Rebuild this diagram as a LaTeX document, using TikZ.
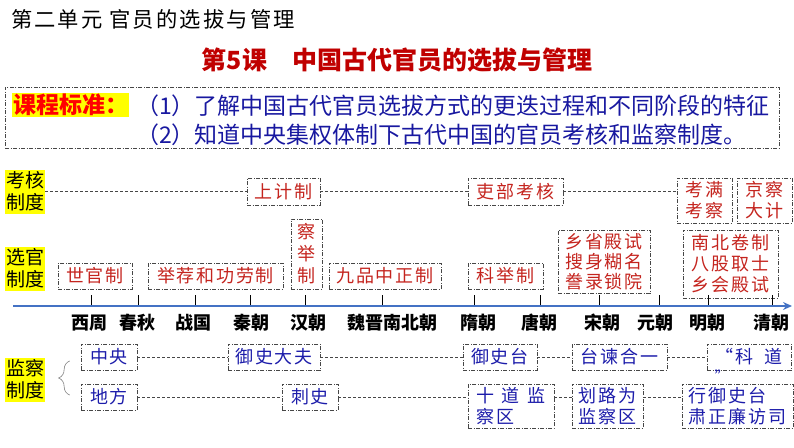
\documentclass[tikz,border=0pt]{standalone}
\usepackage{fontspec}
\setmainfont{Noto Sans CJK SC}
\newfontfamily\boxfont[LetterSpace=10]{Noto Sans CJK SC}
\usetikzlibrary{arrows.meta,decorations.pathreplacing}
\definecolor{boxred}{RGB}{196,36,30}
\definecolor{titlered}{RGB}{192,0,0}
\definecolor{boxblue}{RGB}{28,28,170}
\definecolor{goalblue}{RGB}{24,24,160}
\definecolor{frame}{RGB}{70,70,70}
\definecolor{axisblue}{RGB}{68,114,196}
\definecolor{tagyellow}{RGB}{255,255,0}

\begin{document}
\begin{tikzpicture}
        [x=1pt,y=-1pt,
         wh/.style 2 args={minimum width=#1,minimum height=#2},
         dotbox/.style={draw=frame,line width=0.7pt,dash pattern=on 4pt off 1.5pt on 1pt off 1.5pt,inner sep=0pt,align=center},
         redbox/.style={dotbox,text=boxred,font=\boxfont\fontsize{18}{21}\selectfont},
         bluebox/.style={dotbox,text=boxblue,font=\boxfont\fontsize{18}{21}\selectfont},
         tag/.style={fill=tagyellow,inner sep=1pt,align=center,font=\fontsize{19}{22}\selectfont},
         period/.style={font=\fontsize{18}{20}\selectfont\bfseries},
         link/.style={draw=frame,line width=0.6pt,dash pattern=on 3pt off 2pt},
         goal/.style={anchor=west,text=goalblue,inner sep=0pt,font=\fontsize{23}{26}\selectfont}]
        \useasboundingbox (0,0) rectangle (794,447);

        % titles
        \node (unit) at (153,19) [font=\boxfont\fontsize{21.3}{24}\selectfont] {第二单元 官员的选拔与管理};
        \node (lesson) at (397,60) [text=titlered,font=\fontsize{25}{28}\selectfont\bfseries] {第5课　中国古代官员的选拔与管理};

        % course standard
        \node (standard) at (392,117.5) [dotbox,wh={774}{61}] {};
        \node (stdtag) at (70.5,105) [fill=tagyellow,text=red,inner sep=1pt,wh={115}{22},font=\fontsize{23}{26}\selectfont\bfseries] {课程标准：};
        \node (goal1) at (136,106) [goal] {（1）了解中国古代官员选拔方式的更迭过程和不同阶段的特征};
        \node (goal2) at (136,135) [goal] {（2）知道中央集权体制下古代中国的官员考核和监察制度。};

        % row tags
        \node (kaohe) at (25,191.5) [tag,wh={40}{44}] {考核\\制度};
        \node (xuanguan) at (25,268.5) [tag,wh={40}{44}] {选官\\制度};
        \node (jiancha) at (25,379.5) [tag,wh={40}{44}] {监察\\制度};

        % assessment
        \node (shangji) at (283.5,191.5) [redbox,wh={73}{27}] {上计制};
        \node (libu) at (515.5,191.5) [redbox,wh={95}{27}] {吏部考核};
        \node (kaoman) at (704.5,200.5) [redbox,wh={55}{45}] {考满\\考察};
        \node (jingcha) at (764.5,200.5) [redbox,wh={55}{45}] {京察\\大计};
        \draw[link] (kaohe) -- (shangji);
        \draw[link] (shangji) -- (libu);
        \draw[link] (libu.east) -- (libu.east -| kaoman.west);

        % selection
        \node (shiguan) at (95,276) [redbox,wh={74}{26}] {世官制};
        \node (jujian) at (215.5,276) [redbox,wh={135}{26}] {举荐和功劳制};
        \node (chaju) at (306.5,254) [redbox,wh={31}{70},font=\boxfont\fontsize{18}{22}\selectfont] {察\\举\\制};
        \node (jiupin) at (385,276) [redbox,wh={112}{26}] {九品中正制};
        \node (keju) at (505.5,276) [redbox,wh={75}{26}] {科举制};
        \node (songke) at (604,261.5) [redbox,wh={92}{63},font=\boxfont\fontsize{18}{20}\selectfont] {乡省殿试\\搜身糊名\\誊录锁院};
        \node (mingke) at (730.5,264) [redbox,wh={95}{68},font=\boxfont\fontsize{18}{21}\selectfont] {南北卷制\\八股取士\\乡会殿试};

        % timeline
        \coordinate (tlstart) at (13,306);
        \coordinate (tlend) at (792,306);
        \draw[axisblue,line width=2.2pt,-{Stealth[length=9pt,width=8pt]}] (tlstart) -- (tlend);
        \foreach \x/\c/\t in {91/89/西周,138/137/春秋,195/193/战国,250/251/秦朝,305/308/汉朝,
                              382/392/魏晋南北朝,474/478/隋朝,540/539/唐朝,599/602/宋朝,
                              659/655/元朝,708/707/明朝,772/771/清朝}
          {
            \draw[line width=0.8pt] (\x,305) -- (\x,295);
            \node (p\x) at (\c,323) [period] {\t};
          }

        % supervision
        \node (zhongyang) at (109,357) [bluebox,wh={56}{26}] {中央};
        \node (yushidafu) at (274,357) [bluebox,wh={92}{26}] {御史大夫};
        \node (yushitai) at (500,357) [bluebox,wh={74}{26}] {御史台};
        \node (taijian) at (619.5,357) [bluebox,wh={95}{26}] {台谏合一};
        \node (kedao) at (749,357) [bluebox,wh={84}{26}] {“科\hspace{0.6em}道};
        \node (rquote) at (722,382) [anchor=base,text=boxblue,inner sep=0pt,font=\fontsize{15}{17}\selectfont] {”};
        \node (difang) at (109,397) [bluebox,wh={56}{26}] {地方};
        \node (cishi) at (310,397) [bluebox,wh={56}{26}] {刺史};
        \node (shidao) at (511,406) [bluebox,align=left,wh={86}{44}] {十\hspace{0.4em}道\hspace{0.4em}监\\察区};
        \node (hualu) at (607.5,406) [bluebox,align=left,wh={71}{44}] {划路为\\监察区};
        \node (xingyushi) at (737.5,406) [bluebox,align=left,wh={111}{44}] {行御史台\\肃正廉访司};

        \draw[gray,line width=0.6pt,decorate,decoration={brace,amplitude=11pt}]
          ([xshift=-11pt,yshift=2pt]difang.west) -- ([xshift=-11pt,yshift=-4pt]zhongyang.west);
        \draw[link] (zhongyang) -- (yushidafu);
        \draw[link] (yushidafu) -- (yushitai);
        \draw[link] (yushitai) -- (taijian);
        \draw[link] (taijian) -- (kedao);
        \draw[link] (difang) -- (cishi);
        \draw[link] (cishi.east) -- (cishi.east -| shidao.west);
        \draw[link] (shidao.east |- cishi.east) -- (hualu.west |- cishi.east);
        \draw[link] (hualu.east |- cishi.east) -- (xingyushi.west |- cishi.east);
      \end{tikzpicture}
\end{document}
